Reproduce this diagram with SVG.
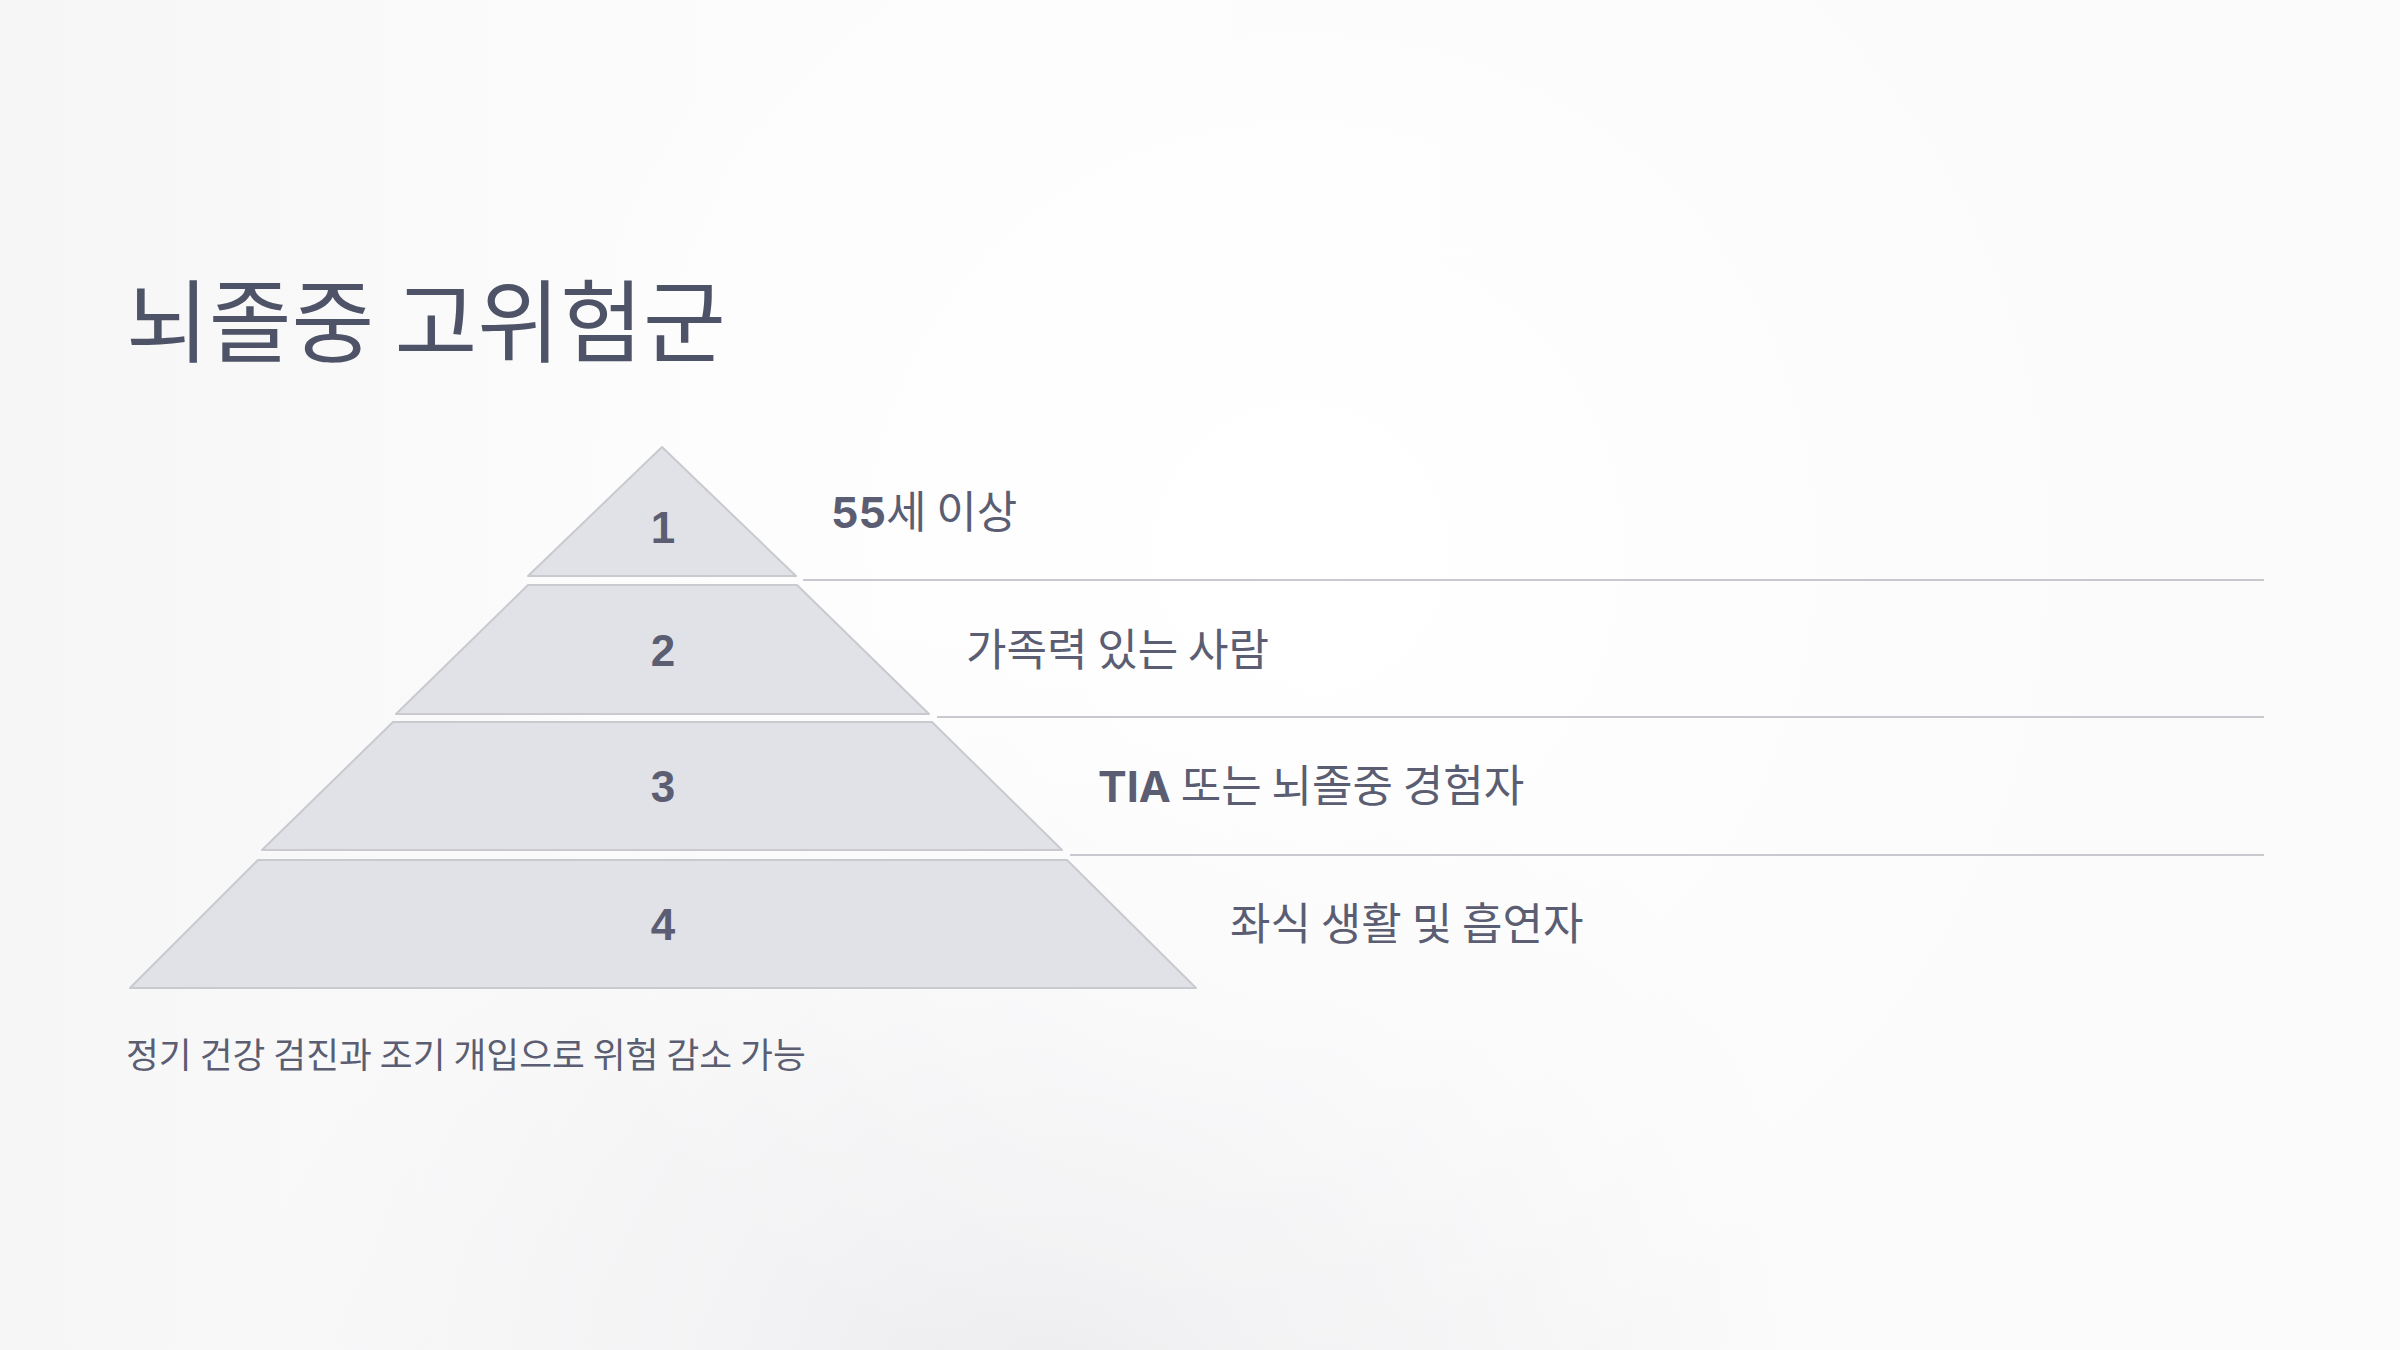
<svg xmlns="http://www.w3.org/2000/svg" width="2400" height="1350" viewBox="0 0 2400 1350">
  <defs>
    <linearGradient id="bg" x1="0" y1="0" x2="1" y2="0">
      <stop offset="0" stop-color="#f6f6f7"/>
      <stop offset="0.3" stop-color="#fcfcfc"/>
      <stop offset="1" stop-color="#fbfbfb"/>
    </linearGradient>
    <radialGradient id="glowBottom" cx="1050" cy="1420" r="800" gradientUnits="userSpaceOnUse">
      <stop offset="0" stop-color="#ececef" stop-opacity="1"/>
      <stop offset="1" stop-color="#ececef" stop-opacity="0"/>
    </radialGradient>
    <radialGradient id="glowWhite" cx="1300" cy="550" r="900" gradientUnits="userSpaceOnUse">
      <stop offset="0" stop-color="#ffffff" stop-opacity="1"/>
      <stop offset="1" stop-color="#ffffff" stop-opacity="0"/>
    </radialGradient>
    <style>
      .layer { fill: #e1e2e7; stroke: #c9cad0; stroke-width: 2; stroke-linejoin: round; }
      .num { font-family: "Liberation Sans", "Noto Sans CJK KR", sans-serif; font-weight: 700; font-size: 44px; fill: #5b5e72; text-anchor: middle; }
      .label { font-family: "Noto Sans CJK KR", sans-serif; font-size: 44px; fill: #5b5e72; }
      .lat { font-family: "Inter", "Liberation Sans", sans-serif; font-weight: 700; font-size: 43px; }
      .sep { stroke: #c8c9cf; stroke-width: 2; fill: none; }
      .title { font-family: "Noto Sans CJK KR", sans-serif; font-size: 90px; fill: #4e5368; }
      .foot { font-family: "Noto Sans CJK KR", sans-serif; font-size: 35.7px; fill: #5b5e72; }
    </style>
  </defs>

  <rect x="0" y="0" width="2400" height="1350" fill="url(#bg)"/>
  <rect x="0" y="0" width="2400" height="1350" fill="url(#glowBottom)"/>
  <rect x="0" y="0" width="2400" height="1350" fill="url(#glowWhite)"/>

  <g id="title">
    <text class="title" x="126" y="355">뇌졸중 고위험군</text>
  </g>

  <g id="connectors">
    <line class="sep" x1="803" y1="580" x2="2264" y2="580"/>
    <line class="sep" x1="937" y1="717" x2="2264" y2="717"/>
    <line class="sep" x1="1070" y1="855" x2="2264" y2="855"/>
  </g>

  <g id="layer1">
    <polygon class="layer" points="662,447 796,576 528,576"/>
    <text class="num" x="663" y="543">1</text>
    <text class="label" x="831" y="528"><tspan class="lat">55</tspan>세 이상</text>
  </g>

  <g id="layer2">
    <polygon class="layer" points="528,585 797,585 929,714 396,714"/>
    <text class="num" x="663" y="666">2</text>
    <text class="label" x="966" y="666">가족력 있는 사람</text>
  </g>

  <g id="layer3">
    <polygon class="layer" points="393,722 932,722 1062,850 262,850"/>
    <text class="num" x="663" y="802">3</text>
    <text class="label" x="1098" y="802"><tspan class="lat">TIA</tspan> 또는 뇌졸중 경험자</text>
  </g>

  <g id="layer4">
    <polygon class="layer" points="258,860 1067,860 1196,988 130,988"/>
    <text class="num" x="663" y="940">4</text>
    <text class="label" x="1230" y="940">좌식 생활 및 흡연자</text>
  </g>

  <g id="footer">
    <text class="foot" x="126" y="1068">정기 건강 검진과 조기 개입으로 위험 감소 가능</text>
  </g>
</svg>
